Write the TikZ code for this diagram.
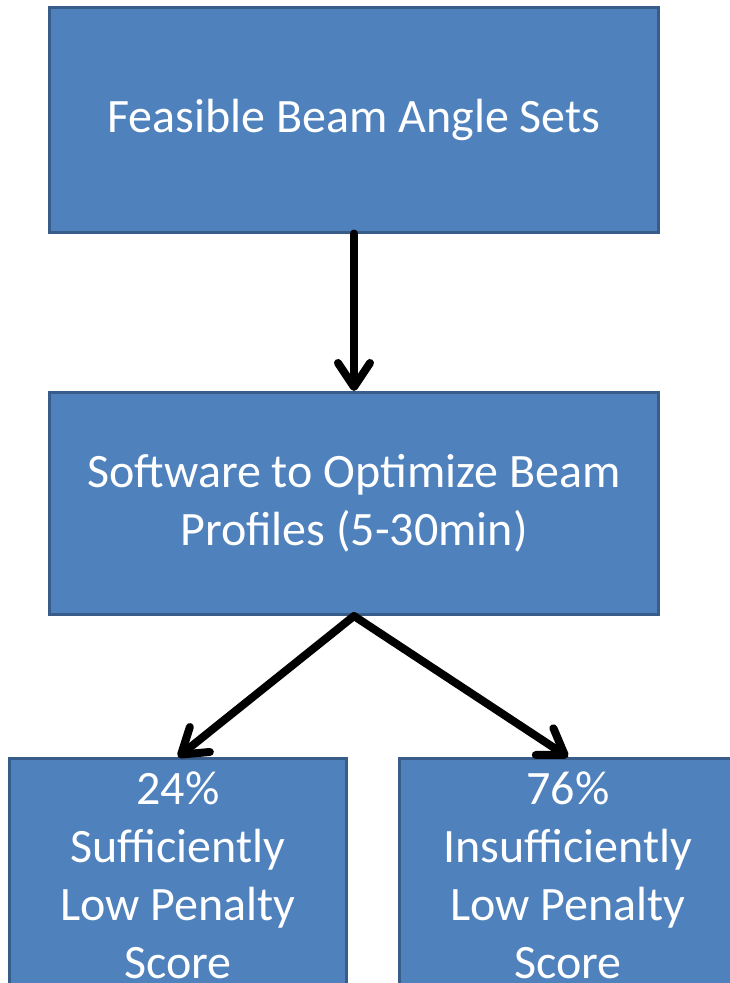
\documentclass[tikz,border=0pt]{standalone}
\usepackage{fontspec}
\setmainfont{Carlito}
\usetikzlibrary{arrows.meta, positioning}
\definecolor{boxblue}{RGB}{79,129,189}
\definecolor{boxedge}{RGB}{56,93,138}
\tikzset{
  flowbox/.style={draw=boxedge, line width=3pt, fill=boxblue, text=white, align=center,
    font=\fontsize{48}{58}\selectfont, inner sep=0pt},
  flowarrow/.style={line width=8pt, line cap=round, line join=round,
    -{Straight Barb[length=24pt, width=32pt, round]}}
}

\begin{document}
\begin{tikzpicture}[x=1pt, y=-1pt]
  \clip (0,0) rectangle (730,983);
  \fill[white] (0,0) rectangle (730,983);

  % Boxes
  \node[flowbox, minimum width=609pt, minimum height=225pt] (feasible) at (354,119.5)
    {Feasible Beam Angle Sets};
  \node[flowbox, minimum width=609pt, minimum height=222pt] (soft) at (354,503.5)
    {Software to Optimize Beam\\Profiles (5-30min)};
  \node[flowbox, minimum width=337pt, minimum height=233pt] (good) at (178,875)
    {24\%\\Sufficiently\\Low Penalty\\Score};
  \node[flowbox, minimum width=337pt, minimum height=233pt] (bad) at (568,875)
    {76\%\\Insufficiently\\Low Penalty\\Score};

  % Arrows
  \draw[flowarrow] (feasible.south) -- (soft.north);
  \draw[flowarrow] (soft.south) -- (good.north);
  \draw[flowarrow] (soft.south) -- (bad.north);
\end{tikzpicture}
\end{document}
